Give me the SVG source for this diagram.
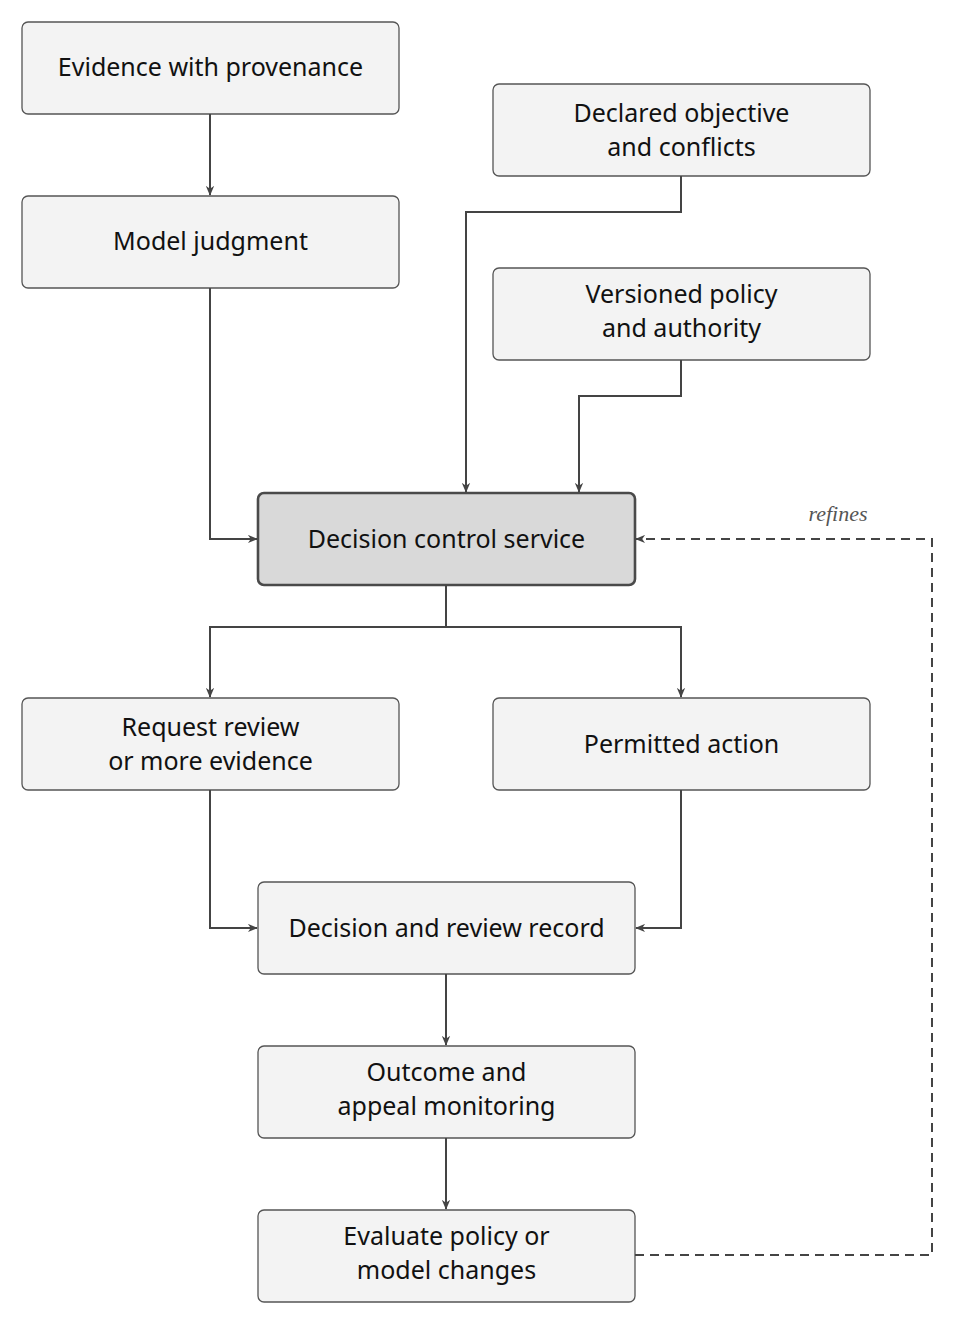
<svg xmlns="http://www.w3.org/2000/svg" width="955" height="1325" viewBox="0 0 955 1325">
<style>
.n rect{fill:#f3f3f3;stroke:#555;stroke-width:1.3}
.m rect{fill:#d9d9d9;stroke:#4a4a4a;stroke-width:2.6}
text{font-family:"Noto Sans","DejaVu Sans",sans-serif;font-size:25px;fill:#111;text-anchor:middle}
.c path{fill:none;stroke:#444;stroke-width:2}
.d{stroke-dasharray:9 6}
</style>
<defs><marker id="a" viewBox="0 0 12 10" refX="11" refY="5" markerWidth="10" markerHeight="9" markerUnits="userSpaceOnUse" orient="auto"><path d="M0,0 L12,5 L0,10 L3.5,5 Z" fill="#444"/></marker></defs>
<rect width="955" height="1325" fill="#fff"/>
<g id="evidence" class="n"><rect x="22" y="22" width="377" height="92" rx="6"/><text x="210.5" y="76">Evidence with provenance</text></g>
<g id="model" class="n"><rect x="22" y="196" width="377" height="92" rx="6"/><text x="210.5" y="250">Model judgment</text></g>
<g id="declared" class="n"><rect x="493" y="84" width="377" height="92" rx="6"/><text x="681.5" y="122">Declared objective</text><text x="681.5" y="156">and conflicts</text></g>
<g id="versioned" class="n"><rect x="493" y="268" width="377" height="92" rx="6"/><text x="681.5" y="303">Versioned policy</text><text x="681.5" y="337">and authority</text></g>
<g id="control" class="m"><rect x="258" y="493" width="377" height="92" rx="6"/><text x="446.5" y="548">Decision control service</text></g>
<g id="request" class="n"><rect x="22" y="698" width="377" height="92" rx="6"/><text x="210.5" y="736">Request review</text><text x="210.5" y="770">or more evidence</text></g>
<g id="permitted" class="n"><rect x="493" y="698" width="377" height="92" rx="6"/><text x="681.5" y="753">Permitted action</text></g>
<g id="record" class="n"><rect x="258" y="882" width="377" height="92" rx="6"/><text x="446.5" y="937">Decision and review record</text></g>
<g id="outcome" class="n"><rect x="258" y="1046" width="377" height="92" rx="6"/><text x="446.5" y="1081">Outcome and</text><text x="446.5" y="1115">appeal monitoring</text></g>
<g id="evaluate" class="n"><rect x="258" y="1210" width="377" height="92" rx="6"/><text x="446.5" y="1245">Evaluate policy or</text><text x="446.5" y="1279">model changes</text></g>
<g id="connectors" class="c">
<path d="M210,114 V195" marker-end="url(#a)"/>
<path d="M210,288 V539 H257" marker-end="url(#a)"/>
<path d="M681,176 V212 H466 V492" marker-end="url(#a)"/>
<path d="M681,360 V396 H579 V492" marker-end="url(#a)"/>
<path d="M446,585 V627 H210 V697" marker-end="url(#a)"/>
<path d="M446,627 H681 V697" marker-end="url(#a)"/>
<path d="M210,790 V928 H257" marker-end="url(#a)"/>
<path d="M681,790 V928 H636" marker-end="url(#a)"/>
<path d="M446,974 V1045" marker-end="url(#a)"/>
<path d="M446,1138 V1209" marker-end="url(#a)"/>
<path class="d" d="M635,1255 H932 V539 H636" marker-end="url(#a)"/>
<text x="838" y="521" style="font-family:'Liberation Serif',serif;font-style:italic;font-size:22px;fill:#555">refines</text>
</g>
</svg>
